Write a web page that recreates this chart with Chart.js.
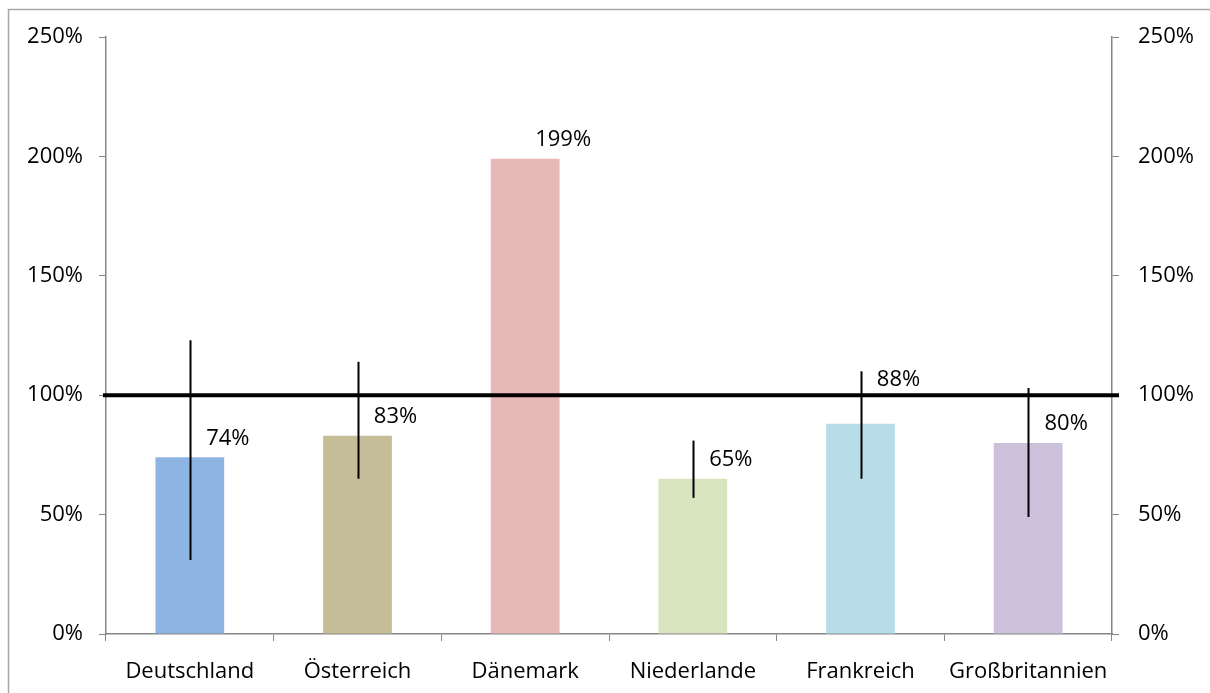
<!DOCTYPE html>
<html>
<head>
<meta charset="utf-8">
<script src="https://cdn.jsdelivr.net/npm/chart.js@4/dist/chart.umd.min.js"></script>
<style>
  body { margin: 0; background: #fff; overflow: hidden; }
  #wrap { width: 1210px; height: 693px; position: relative; }
</style>
</head>
<body>
<div id="wrap"><canvas id="quoteChart"></canvas></div>
<script>
  // Countries and values (percent)
  const countries = ['Deutschland', 'Österreich', 'Dänemark', 'Niederlande', 'Frankreich', 'Großbritannien'];
  const quote = [74, 83, 199, 65, 88, 80];
  const errLow = [31, 65, null, 57, 65, 49];
  const errHigh = [123, 114, null, 81, 110, 103];
  const barColors = ['#8EB4E3', '#C4BD97', '#E6B9B8', '#D7E4BD', '#B7DEE8', '#CCC1DA'];
  const refLine = 100;

  const fontFamily = '"Open Sans", sans-serif';
  const axisColor = '#868686';

  // frame round the whole chart, cut off at right and bottom
  const framePlugin = {
      id: 'frame',
      beforeDraw(chart) {
          const ctx = chart.ctx;
          ctx.save();
          ctx.strokeStyle = '#a6a6a6';
          ctx.lineWidth = 1.5;
          ctx.strokeRect(8.5, 9.5, 1400, 900);
          ctx.restore();
      }
  };

  // error bars, 100% line and value labels
  const extrasPlugin = {
      id: 'extras',
      afterDatasetsDraw(chart) {
          const ctx = chart.ctx;
          const y = chart.scales.y;
          const area = chart.chartArea;
          const meta = chart.getDatasetMeta(0);
          ctx.save();

          ctx.strokeStyle = '#000';
          ctx.lineWidth = 2;
          meta.data.forEach((bar, i) => {
              if (errLow[i] == null) return;
              ctx.beginPath();
              ctx.moveTo(Math.round(bar.x) + 0.5, y.getPixelForValue(errHigh[i]));
              ctx.lineTo(Math.round(bar.x) + 0.5, y.getPixelForValue(errLow[i]));
              ctx.stroke();
          });

          const yRef = y.getPixelForValue(refLine);
          ctx.lineWidth = 4;
          ctx.beginPath();
          ctx.moveTo(area.left - 3, yRef);
          ctx.lineTo(area.right + 7, yRef);
          ctx.stroke();

          ctx.fillStyle = '#000';
          ctx.font = '22px ' + fontFamily;
          ctx.textAlign = 'center';
          ctx.textBaseline = 'middle';
          meta.data.forEach((bar, i) => {
              let ly = bar.y - 19;
              // keep the label off the 100% line
              if (Math.abs(ly - yRef) < 12) ly = yRef - 15;
              ctx.fillText(quote[i] + '%', bar.x + 38, ly);
          });
          ctx.restore();
      }
  };

  const ctx = document.getElementById('quoteChart').getContext('2d');
  const quoteChart = new Chart(ctx, {
      type: 'bar',
      data: {
          labels: countries,
          datasets: [{
              label: 'Quote',
              data: quote,
              backgroundColor: barColors,
              borderWidth: 0,
              categoryPercentage: 0.41,
              barPercentage: 1
          }]
      },
      options: {
          responsive: true,
          maintainAspectRatio: false,
          animation: false,
          layout: { padding: { top: 37, left: 0, right: 0, bottom: 0 } },
          plugins: {
              legend: { display: false },
              tooltip: { enabled: false }
          },
          scales: {
              x: {
                  grid: { drawOnChartArea: false, offset: true, color: axisColor, tickLength: 7 },
                  border: { color: axisColor, width: 1.5 },
                  ticks: { color: '#000', font: { family: fontFamily, size: 22 }, padding: 18, maxRotation: 0 },
                  afterFit(scale) { scale.height = 59; }
              },
              y: {
                  position: 'left',
                  min: 0, max: 250,
                  grid: { drawOnChartArea: false, color: axisColor, tickLength: 7 },
                  border: { color: axisColor, width: 1.5 },
                  ticks: { stepSize: 50, color: '#000', font: { family: fontFamily, size: 22 }, padding: 16,
                           callback: v => v + '%' },
                  afterFit(scale) { scale.width = 106; }
              },
              y2: {
                  position: 'right',
                  min: 0, max: 250,
                  grid: { drawOnChartArea: false, color: axisColor, tickLength: 7 },
                  border: { color: axisColor, width: 1.5 },
                  ticks: { stepSize: 50, color: '#000', font: { family: fontFamily, size: 22 }, padding: 19,
                           callback: v => v + '%' },
                  afterFit(scale) { scale.width = 98; }
              }
          }
      },
      plugins: [framePlugin, extrasPlugin]
  });
</script>
</body>
</html>
